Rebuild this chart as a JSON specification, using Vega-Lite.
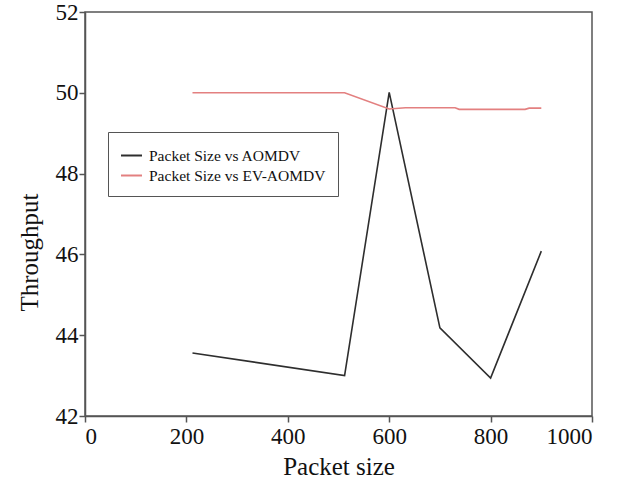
{
  "$schema": "https://vega.github.io/schema/vega-lite/v6.json",
  "width": 507,
  "height": 404,
  "autosize": {"type": "none"},
  "padding": {"left": 85, "top": 12, "right": 31, "bottom": 75},
  "background": "white",
  "config": {
    "font": "Liberation Serif, Times New Roman, serif",
    "view": {"stroke": "#555555", "strokeWidth": 1.5},
    "axis": {"grid": false, "domainColor": "#555555", "domainWidth": 1.5, "tickColor": "#555555", "tickWidth": 1.5, "tickSize": 6, "labelFont": "Liberation Serif, Times New Roman, serif", "titleFont": "Liberation Serif, Times New Roman, serif", "labelColor": "#111111", "titleColor": "#111111", "labelFontSize": 23, "titleFontSize": 25, "titleFontWeight": "normal"},
    "legend": {"labelFont": "Liberation Serif, Times New Roman, serif"}
  },
  "data": {
    "values": [
      {"size": 212, "throughput": 43.56, "series": "Packet Size vs AOMDV"},
      {"size": 512, "throughput": 43.0, "series": "Packet Size vs AOMDV"},
      {"size": 600, "throughput": 50.01, "series": "Packet Size vs AOMDV"},
      {"size": 700, "throughput": 44.18, "series": "Packet Size vs AOMDV"},
      {"size": 800, "throughput": 42.94, "series": "Packet Size vs AOMDV"},
      {"size": 900, "throughput": 46.08, "series": "Packet Size vs AOMDV"},
      {"size": 212, "throughput": 50.0, "series": "Packet Size vs EV-AOMDV"},
      {"size": 512, "throughput": 50.0, "series": "Packet Size vs EV-AOMDV"},
      {"size": 600, "throughput": 49.6, "series": "Packet Size vs EV-AOMDV"},
      {"size": 632, "throughput": 49.63, "series": "Packet Size vs EV-AOMDV"},
      {"size": 730, "throughput": 49.63, "series": "Packet Size vs EV-AOMDV"},
      {"size": 738, "throughput": 49.59, "series": "Packet Size vs EV-AOMDV"},
      {"size": 868, "throughput": 49.59, "series": "Packet Size vs EV-AOMDV"},
      {"size": 876, "throughput": 49.62, "series": "Packet Size vs EV-AOMDV"},
      {"size": 900, "throughput": 49.62, "series": "Packet Size vs EV-AOMDV"}
    ]
  },
  "mark": {"type": "line", "strokeWidth": 1.6},
  "encoding": {
    "x": {"field": "size", "type": "quantitative", "title": "Packet size", "scale": {"domain": [0, 1000], "nice": false}, "axis": {"values": [0, 200, 400, 600, 800, 1000], "format": "d", "labelPadding": 3, "titlePadding": 6}},
    "y": {"field": "throughput", "type": "quantitative", "title": "Throughput", "scale": {"domain": [42, 52], "nice": false, "zero": false}, "axis": {"values": [42, 44, 46, 48, 50, 52], "format": "d", "labelPadding": 1, "titleX": -48, "titleY": 240, "titleBaseline": "alphabetic", "titleAlign": "center"}},
    "color": {"field": "series", "type": "nominal", "scale": {"domain": ["Packet Size vs AOMDV", "Packet Size vs EV-AOMDV"], "range": ["#2e2e2e", "#e38080"]},
      "legend": {"title": null, "orient": "none", "legendX": 23, "legendY": 120, "symbolType": "stroke", "symbolSize": 440, "symbolStrokeWidth": 2, "labelFontSize": 15.5, "labelColor": "#111111", "labelLimit": 300, "strokeColor": "#555555", "padding": 12, "fillColor": "white", "rowPadding": 0, "labelOffset": 6}
    }
  }
}
